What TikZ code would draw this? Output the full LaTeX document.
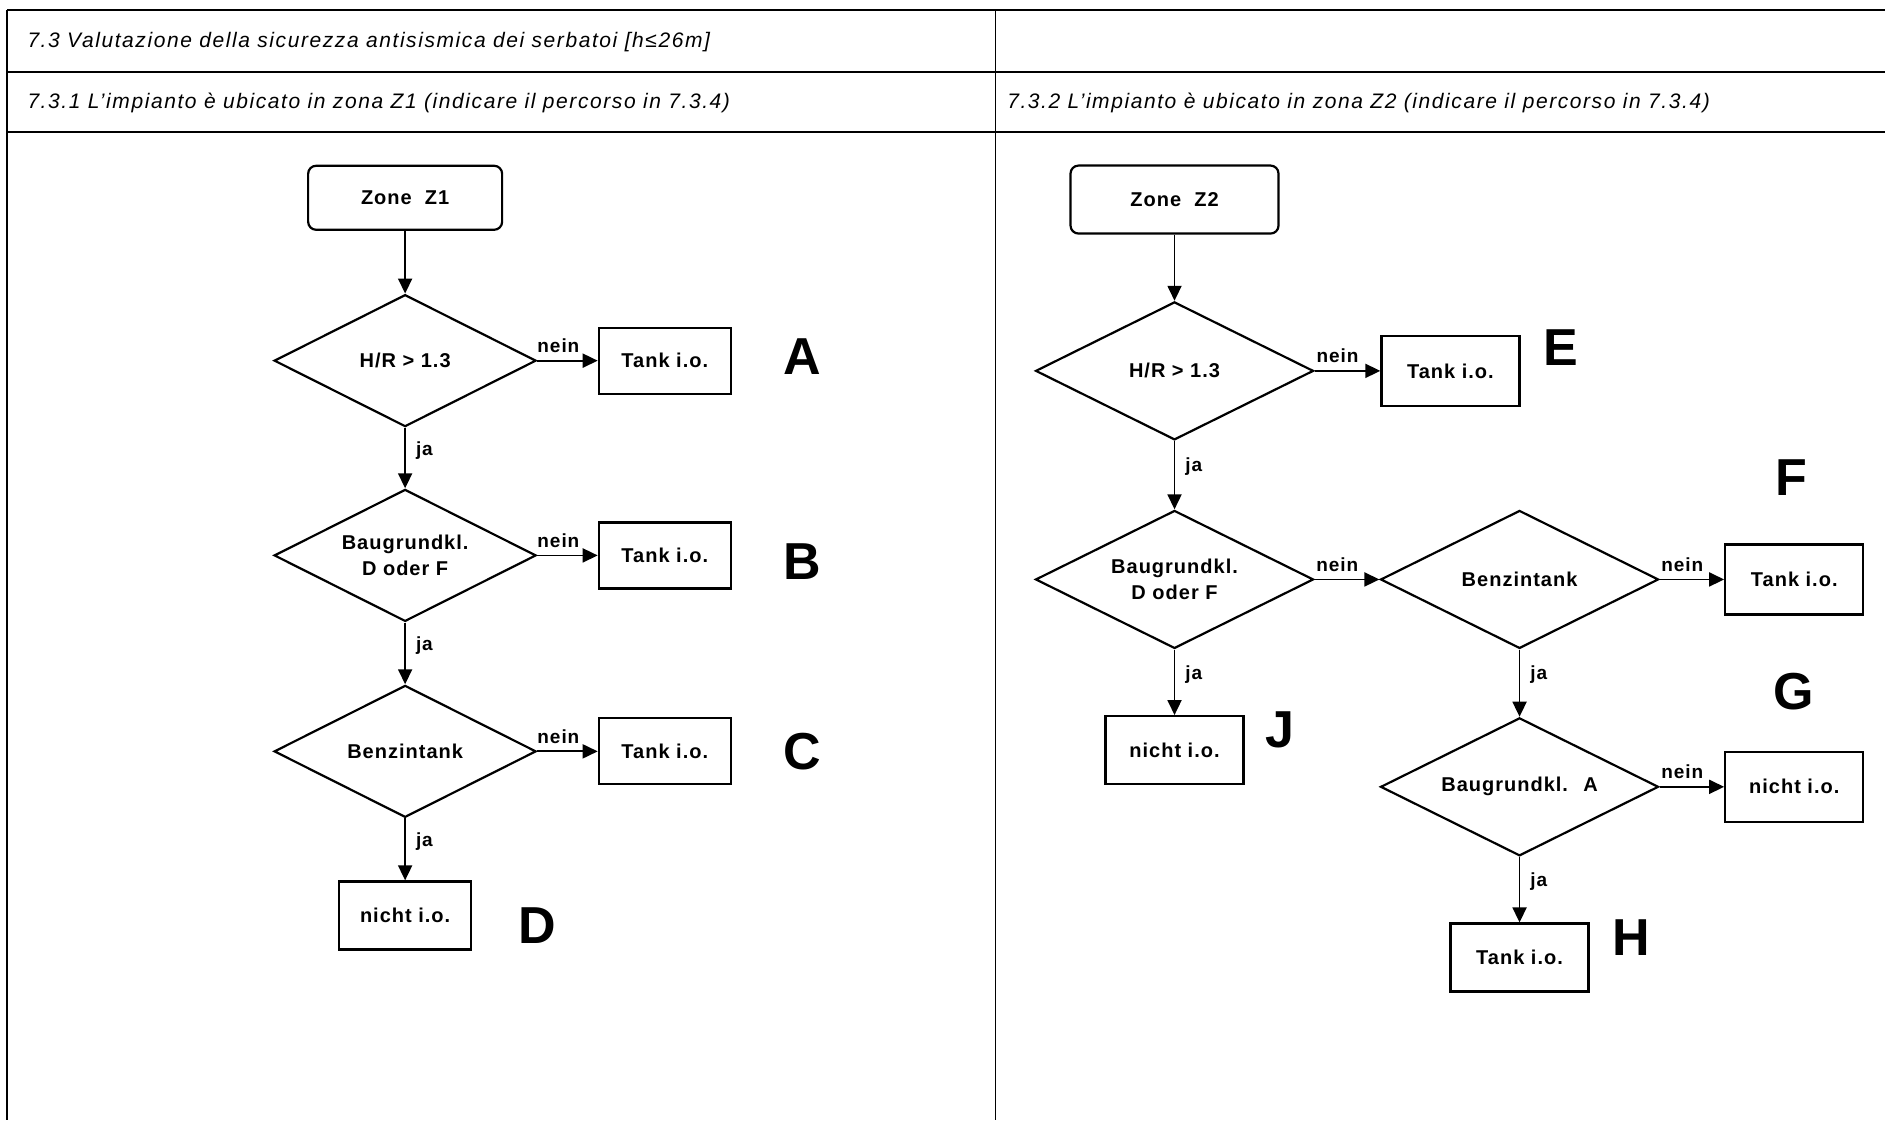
\documentclass[tikz,border=0pt]{standalone}
\usepackage{fontspec}
\setmainfont{Liberation Sans}
\newfontfamily\headfont[LetterSpace=7.5]{Liberation Sans}
\newfontfamily\chartfont[LetterSpace=5]{Liberation Sans}
\usetikzlibrary{arrows.meta,positioning,shapes.geometric}

\tikzset{
  zonebox/.style={draw,rounded corners=4pt,line width=1.1pt,inner sep=0pt,
    font=\chartfont\bfseries\fontsize{10}{12}\selectfont},
  endbox/.style={draw,line width=1.1pt,inner sep=0pt,
    font=\chartfont\bfseries\fontsize{10}{12}\selectfont},
  query/.style={diamond,aspect=2,draw,line width=1.1pt,inner sep=0pt,align=center,
    font=\chartfont\bfseries\fontsize{10}{13}\selectfont},
  flow/.style={-{Triangle[length=7.5pt,width=7pt]},line width=0.9pt},
  yes/.style={font=\chartfont\bfseries\fontsize{9.5}{11}\selectfont,inner sep=2pt,right,xshift=3pt,pos=0.38},
  no/.style={font=\chartfont\bfseries\fontsize{9.5}{11}\selectfont,inner sep=2pt,above,yshift=1.5pt,pos=0.35},
  caseletter/.style={font=\bfseries\fontsize{26}{30}\selectfont},
  head/.style={anchor=west,font=\headfont\itshape\fontsize{10.5}{12}\selectfont},
}

\begin{document}
\begin{tikzpicture}[x=0.6011pt,y=-0.6011pt]
\useasboundingbox (0,0) rectangle (1568,932);

% table frame
\draw[line width=1.2pt] (6,8.5) -- (1568,8.5);
\draw[line width=1.2pt] (6,60) -- (1568,60);
\draw[line width=1.2pt] (6,110) -- (1568,110);
\draw[line width=0.8pt] (6,8.5) -- (6,932);
\draw[line width=0.8pt] (828,8.5) -- (828,932);

\node[head] (h73) at (17,35) {7.3 Valutazione della sicurezza antisismica dei serbatoi [h≤26m]};
\node[head] (h731) at (17,86) {7.3.1 L’impianto è ubicato in zona Z1 (indicare il percorso in 7.3.4)};
\node[head] (h732) at (832,86) {7.3.2 L’impianto è ubicato in zona Z2 (indicare il percorso in 7.3.4)};

% zone Z1
\begin{scope}
\node[zonebox,minimum width=97pt,minimum height=32pt] (z1) at (337,164.5) {Zone~ Z1};
\node[query,minimum width=131pt,minimum height=66pt] (q1) at (337,300) {H/R > 1.3};
\node[query,minimum width=131pt,minimum height=66pt] (q2) at (337,462) {Baugrundkl.\\D oder F};
\node[query,minimum width=131pt,minimum height=66pt] (q3) at (337,625) {Benzintank};
\node[endbox,minimum width=66pt,minimum height=33pt] (a1) at (553,300) {Tank i.o.};
\node[endbox,minimum width=66pt,minimum height=33pt] (b1) at (553,462) {Tank i.o.};
\node[endbox,minimum width=66pt,minimum height=33pt] (c1) at (553,625) {Tank i.o.};
\node[endbox,minimum width=66pt,minimum height=34pt] (d1) at (337,761.5) {nicht i.o.};
\node[caseletter] (mA) at (667,297) {A};
\node[caseletter] (mB) at (667,467) {B};
\node[caseletter] (mC) at (667,625) {C};
\node[caseletter] (mD) at (447,770) {D};

\draw[flow] (z1) -- (q1);
\draw[flow] (q1) -- node[yes] {ja} (q2);
\draw[flow] (q2) -- node[yes] {ja} (q3);
\draw[flow] (q3) -- node[yes] {ja} (d1);
\draw[flow] (q1) -- node[no] {nein} (a1);
\draw[flow] (q2) -- node[no] {nein} (b1);
\draw[flow] (q3) -- node[no] {nein} (c1);
\end{scope}

% zone Z2
\begin{scope}
\node[zonebox,minimum width=104pt,minimum height=34pt] (z2) at (977,166) {Zone~ Z2};
\node[query,minimum width=139pt,minimum height=69pt] (r1) at (977,308.5) {H/R > 1.3};
\node[query,minimum width=139pt,minimum height=69pt] (r2) at (977,482) {Baugrundkl.\\D oder F};
\node[query,minimum width=139pt,minimum height=69pt] (r3) at (1264,482) {Benzintank};
\node[query,minimum width=139pt,minimum height=69pt] (r4) at (1264,654.5) {Baugrundkl.~ A};
\node[endbox,minimum width=69pt,minimum height=35pt] (e1) at (1206.5,308.5) {Tank i.o.};
\node[endbox,minimum width=69pt,minimum height=35pt] (f1) at (1492.5,482) {Tank i.o.};
\node[endbox,minimum width=69pt,minimum height=35pt] (g1) at (1492.5,654.5) {nicht i.o.};
\node[endbox,minimum width=69pt,minimum height=34pt] (h1) at (1264,796.5) {Tank i.o.};
\node[endbox,minimum width=69pt,minimum height=34pt] (j1) at (977,624) {nicht i.o.};
\node[caseletter] (mE) at (1298,289) {E};
\node[caseletter] (mF) at (1490,397) {F};
\node[caseletter] (mG) at (1492,575) {G};
\node[caseletter] (mH) at (1357,780) {H};
\node[caseletter] (mJ) at (1065,607) {J};

\draw[flow] (z2) -- (r1);
\draw[flow] (r1) -- node[yes] {ja} (r2);
\draw[flow] (r2) -- node[yes] {ja} (j1);
\draw[flow] (r3) -- node[yes] {ja} (r4);
\draw[flow] (r4) -- node[yes] {ja} (h1);
\draw[flow] (r1) -- node[no] {nein} (e1);
\draw[flow] (r2) -- node[no] {nein} (r3);
\draw[flow] (r3) -- node[no] {nein} (f1);
\draw[flow] (r4) -- node[no] {nein} (g1);
\end{scope}
\end{tikzpicture}
\end{document}
